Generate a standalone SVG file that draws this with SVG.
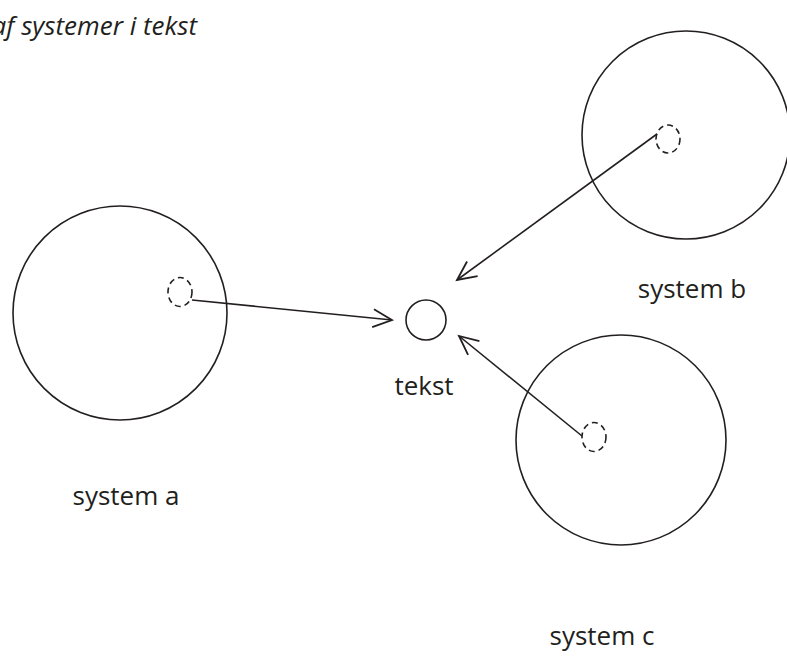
<svg xmlns="http://www.w3.org/2000/svg" width="787" height="672" viewBox="0 0 787 672">
<defs>
<style>
.big{fill:none;stroke:#231f20;stroke-width:1.6}
.dash{fill:none;stroke:#231f20;stroke-width:1.6;stroke-dasharray:6,4}
.conn{fill:none;stroke:#231f20;stroke-width:1.6}
.lbl{font-family:"Open Sans","Liberation Sans",sans-serif;font-size:26px;fill:#231f20;text-anchor:middle}
.title{font-family:"Open Sans","Liberation Sans",sans-serif;font-size:26px;font-style:italic;fill:#231f20;text-anchor:end}
</style>
<marker id="arr" markerUnits="userSpaceOnUse" markerWidth="24" markerHeight="22" refX="20" refY="10" orient="auto">
<path d="M1,1 L20,10 L1,19" fill="none" stroke="#231f20" stroke-width="1.8"/>
</marker>
</defs>
<rect width="787" height="672" fill="#fff"/>
<text class="title" x="197" y="35">af systemer i tekst</text>
<g id="system-a">
<circle class="big" cx="120" cy="313" r="107"/>
<ellipse class="dash" cx="180" cy="292" rx="12" ry="14.5"/>
<text class="lbl" x="126" y="505">system a</text>
</g>
<g id="system-b">
<circle class="big" cx="686" cy="135" r="104"/>
<ellipse class="dash" cx="668" cy="139" rx="12" ry="14"/>
<text class="lbl" x="692" y="298">system b</text>
</g>
<g id="system-c">
<circle class="big" cx="621" cy="440" r="105"/>
<ellipse class="dash" cx="594" cy="437" rx="12" ry="14.5"/>
<text class="lbl" x="602" y="645">system c</text>
</g>
<g id="tekst">
<circle class="big" cx="426" cy="320" r="20"/>
<text class="lbl" x="424" y="395">tekst</text>
</g>
<g id="connectors">
<line class="conn" x1="192" y1="300" x2="392" y2="320" marker-end="url(#arr)"/>
<line class="conn" x1="657" y1="134" x2="457" y2="280" marker-end="url(#arr)"/>
<line class="conn" x1="582" y1="436" x2="459" y2="336" marker-end="url(#arr)"/>
</g>
</svg>
